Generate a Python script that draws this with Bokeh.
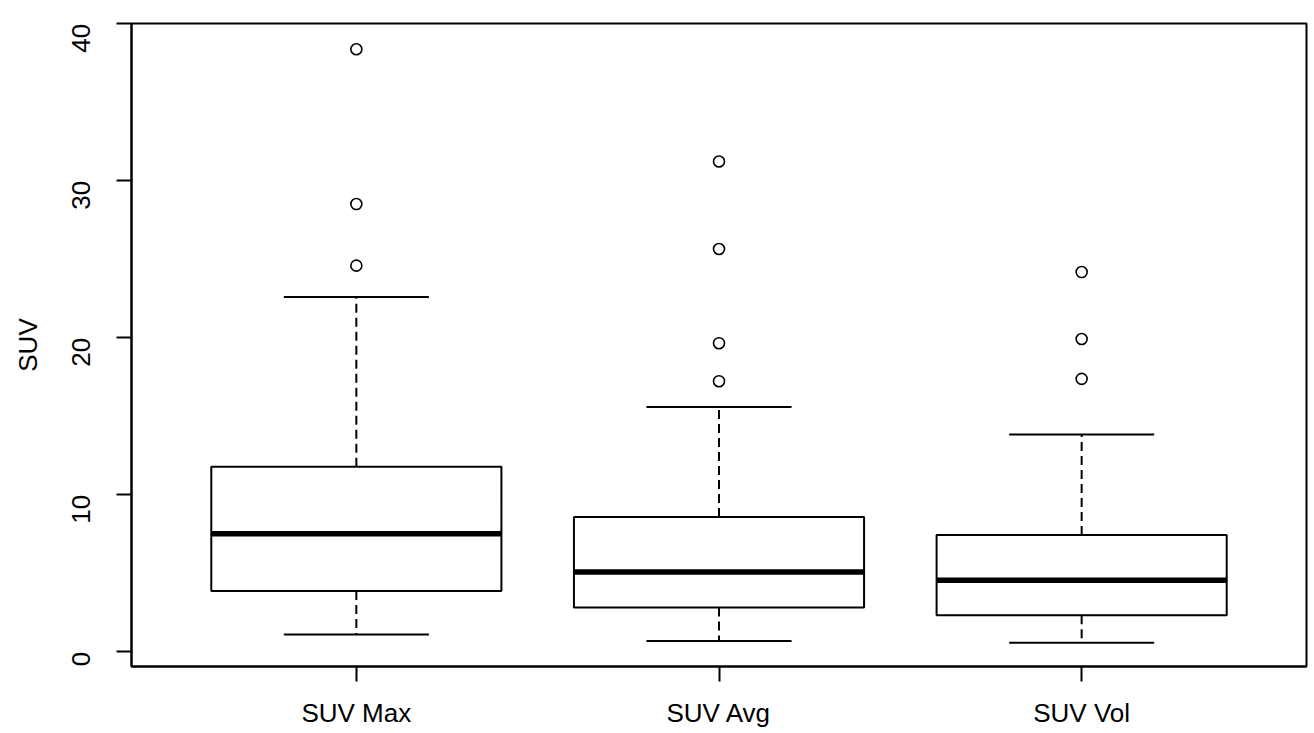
import math
from bokeh.plotting import figure
from bokeh.models import Range1d, FixedTicker, LinearAxis
from bokeh.embed import file_html
from bokeh.resources import INLINE

categories = ["SUV Max", "SUV Avg", "SUV Vol"]
lower_whisker = [1.10, 0.70, 0.59]
q1 = [3.88, 2.82, 2.33]
median = [7.53, 5.09, 4.56]
q3 = [11.79, 8.59, 7.44]
upper_whisker = [22.60, 15.60, 13.85]
outliers_max = [38.38, 28.52, 24.60]
outliers_avg = [31.23, 25.66, 19.66, 17.24]
outliers_vol = [24.19, 19.93, 17.39]
y_ticks = [0, 10, 20, 30, 40]

FONT = "Liberation Sans"
pos = [i + 1 for i in range(len(categories))]

p = figure(width=1312, height=731, output_backend="svg", toolbar_location=None,
           x_range=Range1d(0.38, 3.62), y_range=Range1d(-0.93, 40.02),
           x_axis_type=None, y_axis_type=None,
           min_border_left=131, min_border_right=6, min_border_top=23, min_border_bottom=65)
p.xgrid.visible = False
p.ygrid.visible = False
p.outline_line_color = "black"
p.outline_line_width = 2
p.background_fill_color = "white"
p.border_fill_color = "white"

# whiskers (dashed)
p.segment(x0=pos, y0=q3, x1=pos, y1=upper_whisker, line_color="black", line_width=2, line_dash="9 5")
p.segment(x0=pos, y0=q1, x1=pos, y1=lower_whisker, line_color="black", line_width=2, line_dash="9 5")
# caps
p.segment(x0=[x - 0.2 for x in pos], y0=upper_whisker, x1=[x + 0.2 for x in pos], y1=upper_whisker,
          line_color="black", line_width=2)
p.segment(x0=[x - 0.2 for x in pos], y0=lower_whisker, x1=[x + 0.2 for x in pos], y1=lower_whisker,
          line_color="black", line_width=2)
# boxes
p.vbar(x=pos, width=0.8, bottom=q1, top=q3, fill_color="white", line_color="black", line_width=2)
# medians
p.segment(x0=[x - 0.4 for x in pos], y0=median, x1=[x + 0.4 for x in pos], y1=median,
          line_color="black", line_width=5.5)
# outliers
for i, outs in enumerate([outliers_max, outliers_avg, outliers_vol]):
    p.scatter(x=[pos[i]] * len(outs), y=outs, marker="circle", size=11,
              fill_color="white", line_color="black", line_width=1.6)

yax = LinearAxis(ticker=FixedTicker(ticks=y_ticks), axis_label="SUV")
yax.major_label_orientation = math.pi / 2
yax.major_tick_out = 15
yax.major_tick_in = 0
yax.minor_tick_line_color = None
yax.axis_line_width = 2
yax.major_tick_line_width = 2
yax.major_label_text_font = FONT
yax.major_label_text_font_size = "26px"
yax.major_label_text_color = "black"
yax.major_label_standoff = 35
yax.axis_label_text_font = FONT
yax.axis_label_text_font_size = "26px"
yax.axis_label_text_font_style = "normal"
yax.axis_label_text_color = "black"
yax.axis_label_standoff = 18
p.add_layout(yax, "left")

xax = LinearAxis(ticker=FixedTicker(ticks=pos),
                 major_label_overrides={pos[i]: categories[i] for i in range(len(categories))})
xax.major_tick_out = 15
xax.major_tick_in = 0
xax.minor_tick_line_color = None
xax.axis_line_width = 2
xax.major_tick_line_width = 2
xax.major_label_text_font = FONT
xax.major_label_text_font_size = "26px"
xax.major_label_text_color = "black"
xax.major_label_standoff = 16
p.add_layout(xax, "below")

open("out.html", "w").write(file_html(p, INLINE))
